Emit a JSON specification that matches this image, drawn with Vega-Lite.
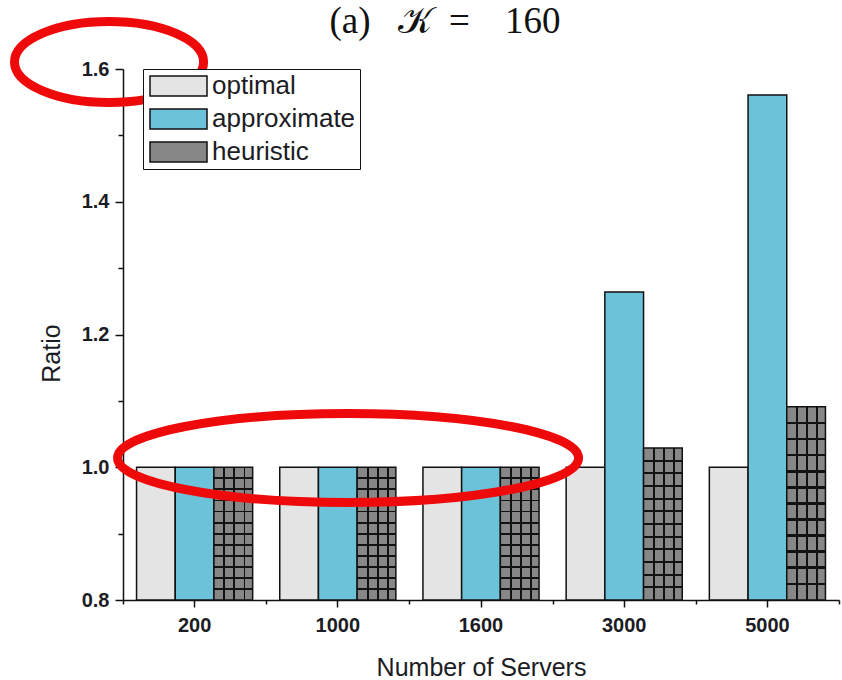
{
  "$schema": "https://vega.github.io/schema/vega-lite/v6.json",
  "width": 716,
  "height": 531,
  "autosize": {"type": "none"},
  "padding": {"left": 123, "top": 69, "right": 3, "bottom": 80},
  "background": "white",
  "title": {
    "text": "(a)\u2002\u2005\ud835\udca6\u2005\u2009=\u2002\u2005\u2009160",
    "font": "Liberation Serif",
    "fontSize": 37,
    "fontWeight": "normal",
    "color": "#111111",
    "anchor": "middle",
    "frame": "group",
    "offset": 0,
    "dx": -36,
    "dy": 37
  },
  "data": {
    "values": [
      {"server": "200", "series": "optimal", "ratio": 1.0},
      {"server": "200", "series": "approximate", "ratio": 1.0},
      {"server": "200", "series": "heuristic", "ratio": 1.0},
      {"server": "1000", "series": "optimal", "ratio": 1.0},
      {"server": "1000", "series": "approximate", "ratio": 1.0},
      {"server": "1000", "series": "heuristic", "ratio": 1.0},
      {"server": "1600", "series": "optimal", "ratio": 1.0},
      {"server": "1600", "series": "approximate", "ratio": 1.0},
      {"server": "1600", "series": "heuristic", "ratio": 1.0},
      {"server": "3000", "series": "optimal", "ratio": 1.0},
      {"server": "3000", "series": "approximate", "ratio": 1.264},
      {"server": "3000", "series": "heuristic", "ratio": 1.029},
      {"server": "5000", "series": "optimal", "ratio": 1.0},
      {"server": "5000", "series": "approximate", "ratio": 1.561},
      {"server": "5000", "series": "heuristic", "ratio": 1.091}
    ]
  },
  "resolve": {"axis": {"x": "independent", "y": "independent"}},
  "layer": [
    {
      "mark": {"type": "bar", "stroke": "#111111", "strokeWidth": 1.5, "clip": false},
      "encoding": {
        "x": {
          "field": "server", "type": "nominal",
          "sort": ["200", "1000", "1600", "3000", "5000"],
          "scale": {"paddingInner": 0, "paddingOuter": 0},
          "axis": {
            "orient": "bottom",
            "title": "Number of Servers",
            "titleFontSize": 25,
            "titleFontWeight": "normal",
            "titlePadding": 20,
            "labelAngle": 0,
            "labelFontSize": 20,
            "labelFontWeight": "bold",
            "labelPadding": 8,
            "tickSize": 7,
            "tickWidth": 1.5,
            "domainWidth": 1.5
          }
        },
        "xOffset": {
          "field": "series", "type": "nominal",
          "sort": ["optimal", "approximate", "heuristic"],
          "scale": {"paddingInner": 0, "paddingOuter": 0.35}
        },
        "y": {
          "field": "ratio", "type": "quantitative",
          "scale": {"domain": [0.8, 1.6], "zero": false, "nice": false},
          "axis": {
            "orient": "left",
            "title": "Ratio",
            "titleFontSize": 25,
            "titleFontWeight": "normal",
            "titlePadding": 17,
            "titleY": 284,
            "values": [0.8, 1.0, 1.2, 1.4, 1.6],
            "format": ".1f",
            "labelFontSize": 20,
            "labelFontWeight": "bold",
            "labelPadding": 6,
            "tickSize": 8,
            "tickWidth": 1.5,
            "domainWidth": 1.5
          }
        },
        "y2": {"datum": 0.8},
        "fill": {
          "field": "series", "type": "nominal",
          "scale": {
            "domain": ["optimal", "approximate", "heuristic"],
            "range": ["#e4e4e4", "#6cc3d9", "#878787"]
          },
          "legend": {
            "title": null,
            "orient": "none",
            "legendX": 20,
            "legendY": 0,
            "direction": "vertical",
            "fillColor": "white",
            "strokeColor": "#111111",
            "padding": 4,
            "symbolType": "M-1,-1L4.7,-1L4.7,1L-1,1Z",
            "symbolSize": 400,
            "symbolStrokeColor": "#111111",
            "symbolStrokeWidth": 1.5,
            "symbolOpacity": 1,
            "labelFont": "Liberation Sans",
            "labelFontSize": 26,
            "labelColor": "#1c1c24",
            "labelOffset": 39,
            "rowPadding": 7
          }
        }
      }
    },
    {
      "transform": [{"filter": "datum.series === 'heuristic'"}],
      "mark": {
        "type": "bar",
        "clip": false,
        "fill": {
          "gradient": "linear", "x1": 0, "y1": 0, "x2": 1, "y2": 0,
          "stops": [
            {"offset": 0, "color": "rgba(0,0,0,0)"},
            {"offset": 0.245, "color": "rgba(0,0,0,0)"},
            {"offset": 0.245, "color": "#111111"},
            {"offset": 0.295, "color": "#111111"},
            {"offset": 0.295, "color": "rgba(0,0,0,0)"},
            {"offset": 0.505, "color": "rgba(0,0,0,0)"},
            {"offset": 0.505, "color": "#111111"},
            {"offset": 0.555, "color": "#111111"},
            {"offset": 0.555, "color": "rgba(0,0,0,0)"},
            {"offset": 0.765, "color": "rgba(0,0,0,0)"},
            {"offset": 0.765, "color": "#111111"},
            {"offset": 0.815, "color": "#111111"},
            {"offset": 0.815, "color": "rgba(0,0,0,0)"},
            {"offset": 1, "color": "rgba(0,0,0,0)"}
          ]
        }
      },
      "encoding": {
        "x": {"field": "server", "type": "nominal", "sort": ["200", "1000", "1600", "3000", "5000"], "axis": null},
        "xOffset": {"field": "series", "type": "nominal", "sort": ["optimal", "approximate", "heuristic"]},
        "y": {"field": "ratio", "type": "quantitative", "axis": null},
        "y2": {"datum": 0.8}
      }
    },
    {
      "transform": [{"filter": "datum.series === 'heuristic'"}],
      "mark": {
        "type": "bar",
        "clip": false,
        "fill": {
          "gradient": "linear", "x1": 0, "y1": 0, "x2": 0, "y2": 1,
          "stops": [
            {"offset": 0, "color": "rgba(0,0,0,0)"},
            {"offset": 0.076, "color": "rgba(0,0,0,0)"},
            {"offset": 0.076, "color": "#111111"},
            {"offset": 0.090, "color": "#111111"},
            {"offset": 0.090, "color": "rgba(0,0,0,0)"},
            {"offset": 0.160, "color": "rgba(0,0,0,0)"},
            {"offset": 0.160, "color": "#111111"},
            {"offset": 0.174, "color": "#111111"},
            {"offset": 0.174, "color": "rgba(0,0,0,0)"},
            {"offset": 0.243, "color": "rgba(0,0,0,0)"},
            {"offset": 0.243, "color": "#111111"},
            {"offset": 0.257, "color": "#111111"},
            {"offset": 0.257, "color": "rgba(0,0,0,0)"},
            {"offset": 0.326, "color": "rgba(0,0,0,0)"},
            {"offset": 0.326, "color": "#111111"},
            {"offset": 0.340, "color": "#111111"},
            {"offset": 0.340, "color": "rgba(0,0,0,0)"},
            {"offset": 0.410, "color": "rgba(0,0,0,0)"},
            {"offset": 0.410, "color": "#111111"},
            {"offset": 0.424, "color": "#111111"},
            {"offset": 0.424, "color": "rgba(0,0,0,0)"},
            {"offset": 0.493, "color": "rgba(0,0,0,0)"},
            {"offset": 0.493, "color": "#111111"},
            {"offset": 0.507, "color": "#111111"},
            {"offset": 0.507, "color": "rgba(0,0,0,0)"},
            {"offset": 0.576, "color": "rgba(0,0,0,0)"},
            {"offset": 0.576, "color": "#111111"},
            {"offset": 0.590, "color": "#111111"},
            {"offset": 0.590, "color": "rgba(0,0,0,0)"},
            {"offset": 0.660, "color": "rgba(0,0,0,0)"},
            {"offset": 0.660, "color": "#111111"},
            {"offset": 0.674, "color": "#111111"},
            {"offset": 0.674, "color": "rgba(0,0,0,0)"},
            {"offset": 0.743, "color": "rgba(0,0,0,0)"},
            {"offset": 0.743, "color": "#111111"},
            {"offset": 0.757, "color": "#111111"},
            {"offset": 0.757, "color": "rgba(0,0,0,0)"},
            {"offset": 0.826, "color": "rgba(0,0,0,0)"},
            {"offset": 0.826, "color": "#111111"},
            {"offset": 0.840, "color": "#111111"},
            {"offset": 0.840, "color": "rgba(0,0,0,0)"},
            {"offset": 0.910, "color": "rgba(0,0,0,0)"},
            {"offset": 0.910, "color": "#111111"},
            {"offset": 0.924, "color": "#111111"},
            {"offset": 0.924, "color": "rgba(0,0,0,0)"},
            {"offset": 1, "color": "rgba(0,0,0,0)"}
          ]
        }
      },
      "encoding": {
        "x": {"field": "server", "type": "nominal", "sort": ["200", "1000", "1600", "3000", "5000"], "axis": null},
        "xOffset": {"field": "series", "type": "nominal", "sort": ["optimal", "approximate", "heuristic"]},
        "y": {"field": "ratio", "type": "quantitative", "axis": null},
        "y2": {"datum": 0.8}
      }
    },
    {
      "mark": {"type": "bar", "opacity": 0, "clip": false},
      "encoding": {
        "x": {
          "field": "server", "type": "nominal",
          "sort": ["200", "1000", "1600", "3000", "5000"],
          "axis": {
            "orient": "bottom", "title": null, "labels": false, "domain": false,
            "tickBand": "extent", "tickSize": 4, "tickWidth": 1.5
          }
        },
        "xOffset": {"field": "series", "type": "nominal", "sort": ["optimal", "approximate", "heuristic"]},
        "y": {
          "field": "ratio", "type": "quantitative",
          "axis": {
            "orient": "left", "title": null, "labels": false, "domain": false,
            "values": [0.9, 1.1, 1.3, 1.5], "tickSize": 5, "tickWidth": 1.5
          }
        },
        "y2": {"datum": 0.8}
      }
    },
    {
      "data": {"values": [{}]},
      "mark": {
        "type": "point",
        "shape": "M0.045,-0.035C0.045,0.0768 -0.167,0.1675 -0.428,0.1675C-0.689,0.1675 -0.9005,0.0768 -0.9005,-0.035C-0.9005,-0.1468 -0.689,-0.2375 -0.428,-0.2375C-0.167,-0.2375 0.045,-0.1468 0.045,-0.035Z",
        "size": 160000,
        "filled": false,
        "stroke": "#ee0a0a",
        "strokeWidth": 9,
        "opacity": 1,
        "clip": false
      },
      "encoding": {
        "x": {"datum": "200", "type": "nominal", "axis": null},
        "y": {"datum": 1.6, "type": "quantitative", "axis": null}
      }
    },
    {
      "data": {"values": [{}]},
      "mark": {
        "type": "point",
        "shape": "M0.963,-0.037C0.963,0.0613 0.5502,0.141 0.041,0.141C-0.4682,0.141 -0.881,0.0613 -0.881,-0.037C-0.881,-0.1353 -0.4682,-0.215 0.041,-0.215C0.5502,-0.215 0.963,-0.1353 0.963,-0.037Z",
        "size": 250000,
        "filled": false,
        "stroke": "#ee0a0a",
        "strokeWidth": 9,
        "opacity": 1,
        "clip": false
      },
      "encoding": {
        "x": {"datum": "1000", "type": "nominal", "axis": null},
        "y": {"datum": 1.0, "type": "quantitative", "axis": null}
      }
    }
  ],
  "config": {
    "view": {"stroke": null},
    "axis": {
      "grid": false,
      "domainColor": "#111111",
      "tickColor": "#111111",
      "labelColor": "#1c1c24",
      "titleColor": "#1c1c24",
      "labelFont": "Liberation Sans",
      "titleFont": "Liberation Sans"
    }
  }
}
